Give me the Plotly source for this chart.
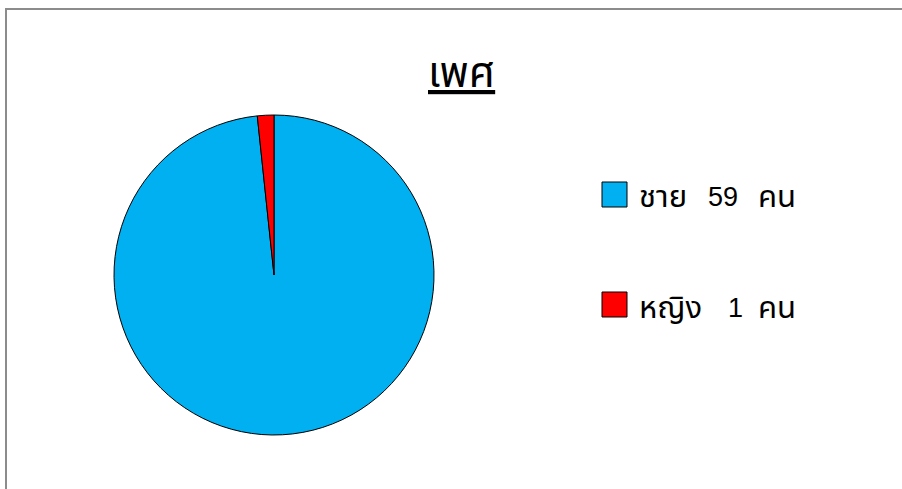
import plotly.graph_objects as go

labels = ["ชาย", "หญิง"]
values = [59, 1]
unit = "คน"
colors = ["#00B0F0", "#FF0000"]
title_text = "เพศ"

W, H = 902, 489
FONT = "Liberation Sans, Arial, Noto Sans Thai, sans-serif"

fig = go.Figure()
fig.add_trace(go.Pie(
    labels=labels, values=values, sort=False, direction="clockwise", rotation=0,
    marker=dict(colors=colors, line=dict(color="#000000", width=1)),
    textinfo="none", hoverinfo="label+value", showlegend=False,
    domain=dict(x=[(274 - 160) / W, (274 + 160) / W], y=[(H - 435) / H, (H - 115) / H]),
))

def px(x):
    return x / W

def py(y):
    return (H - y) / H

shapes = [
    dict(type="rect", xref="paper", yref="paper", x0=px(6), x1=1.05, y0=-0.05, y1=py(9),
         line=dict(color="#8c8c8c", width=2), fillcolor="rgba(0,0,0,0)", layer="below"),
]
annotations = [
    dict(text="<u>" + title_text + "</u>", xref="paper", yref="paper", x=px(461), y=py(72),
         xanchor="center", yanchor="middle", showarrow=False,
         font=dict(size=42, color="#000000", family=FONT)),
]
square_y = [194.5, 304.5]
text_y = [197, 308]
value_right = [740, 745]
for i in range(len(labels)):
    ys = square_y[i]
    yt = text_y[i]
    shapes.append(dict(type="rect", xref="paper", yref="paper",
                       x0=px(602), x1=px(627), y0=py(ys + 12.5), y1=py(ys - 12.5),
                       fillcolor=colors[i], line=dict(color="#000000", width=1)))
    fnum = dict(size=27, color="#000000", family=FONT)
    fthai = dict(size=31, color="#000000", family=FONT)
    annotations.append(dict(text=labels[i], xref="paper", yref="paper", x=px(637), y=py(yt - 1),
                            xanchor="left", yanchor="middle", showarrow=False, font=fthai))
    annotations.append(dict(text=str(values[i]), xref="paper", yref="paper", x=px(value_right[i]), y=py(yt),
                            xanchor="right", yanchor="middle", showarrow=False, font=fnum))
    annotations.append(dict(text=unit, xref="paper", yref="paper", x=px(798), y=py(yt - 1),
                            xanchor="right", yanchor="middle", showarrow=False, font=fthai))

fig.update_layout(
    width=W, height=H, margin=dict(l=0, r=0, t=0, b=0),
    paper_bgcolor="#ffffff", plot_bgcolor="#ffffff",
    shapes=shapes, annotations=annotations, showlegend=False,
)
fig.write_html("out.html", config={"displayModeBar": False},
               post_script="document.body.style.margin='0px';document.body.style.overflow='hidden';")
